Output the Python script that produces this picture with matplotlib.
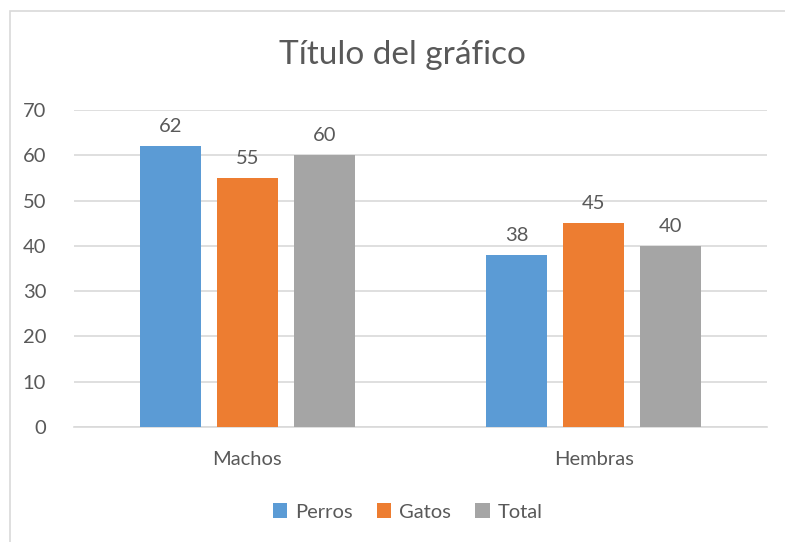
import matplotlib.pyplot as plt
import numpy as np
from matplotlib.patches import Rectangle

# data
categories = ["Machos", "Hembras"]
series_names = ["Perros", "Gatos", "Total"]
perros = [62, 38]
gatos = [55, 45]
total = [60, 40]
y_ticks = [0, 10, 20, 30, 40, 50, 60, 70]

colors = ["#5B9BD5", "#ED7D31", "#A5A5A5"]
text_color = "#595959"
grid_color = "#D9D9D9"

plt.rcParams['font.family'] = ['Lato', 'DejaVu Sans']

fig = plt.figure(figsize=(7.85, 5.42), dpi=100)
W, H = 785, 542

# chart area border (cut off on right and bottom like the screenshot)
fig.add_artist(Rectangle((10 / W, -0.1), 1.2, 1 - 11 / H + 0.1,
                         transform=fig.transFigure, fill=False,
                         edgecolor=grid_color, linewidth=1.2))

ax = fig.add_axes([74 / W, 1 - 427 / H, (767 - 74) / W, (427 - 110) / H])

x = np.arange(len(categories))
width = 0.176
step = 0.222
for i, (vals, name) in enumerate(zip([perros, gatos, total], series_names)):
    bars = ax.bar(x + (i - 1) * step, vals, width, color=colors[i], label=name, zorder=3)
    for b, v in zip(bars, vals):
        ax.annotate(str(v), (b.get_x() + b.get_width() / 2, v),
                    xytext=(0, 8), textcoords="offset points",
                    ha="center", va="bottom", fontsize=14.5, color=text_color)

ax.set_xlim(-0.5, 1.5)
ax.set_ylim(0, 70)
ax.set_yticks(y_ticks)
ax.set_xticks(x)
ax.set_xticklabels(categories)
ax.yaxis.grid(True, color=grid_color, linewidth=1.2, zorder=0)
ax.tick_params(axis='both', length=0, labelsize=14.5, labelcolor=text_color)
ax.tick_params(axis='y', pad=20)
ax.tick_params(axis='x', pad=17)
for s in ["top", "right", "left"]:
    ax.spines[s].set_visible(False)
ax.spines["bottom"].set_color(grid_color)
ax.spines["bottom"].set_linewidth(1.2)

fig.text(402 / W, 1 - 55 / H, "Título del gráfico", ha="center", va="center",
         fontsize=24, color=text_color)

handles, labels = ax.get_legend_handles_labels()
fig.legend(handles, labels, loc="center", bbox_to_anchor=(408 / W, 1 - 512 / H),
           ncol=3, frameon=False, fontsize=14.5, labelcolor=text_color,
           handlelength=0.7, handleheight=0.7, handletextpad=0.4, columnspacing=1.2)

fig.savefig("out.png", dpi=100)
